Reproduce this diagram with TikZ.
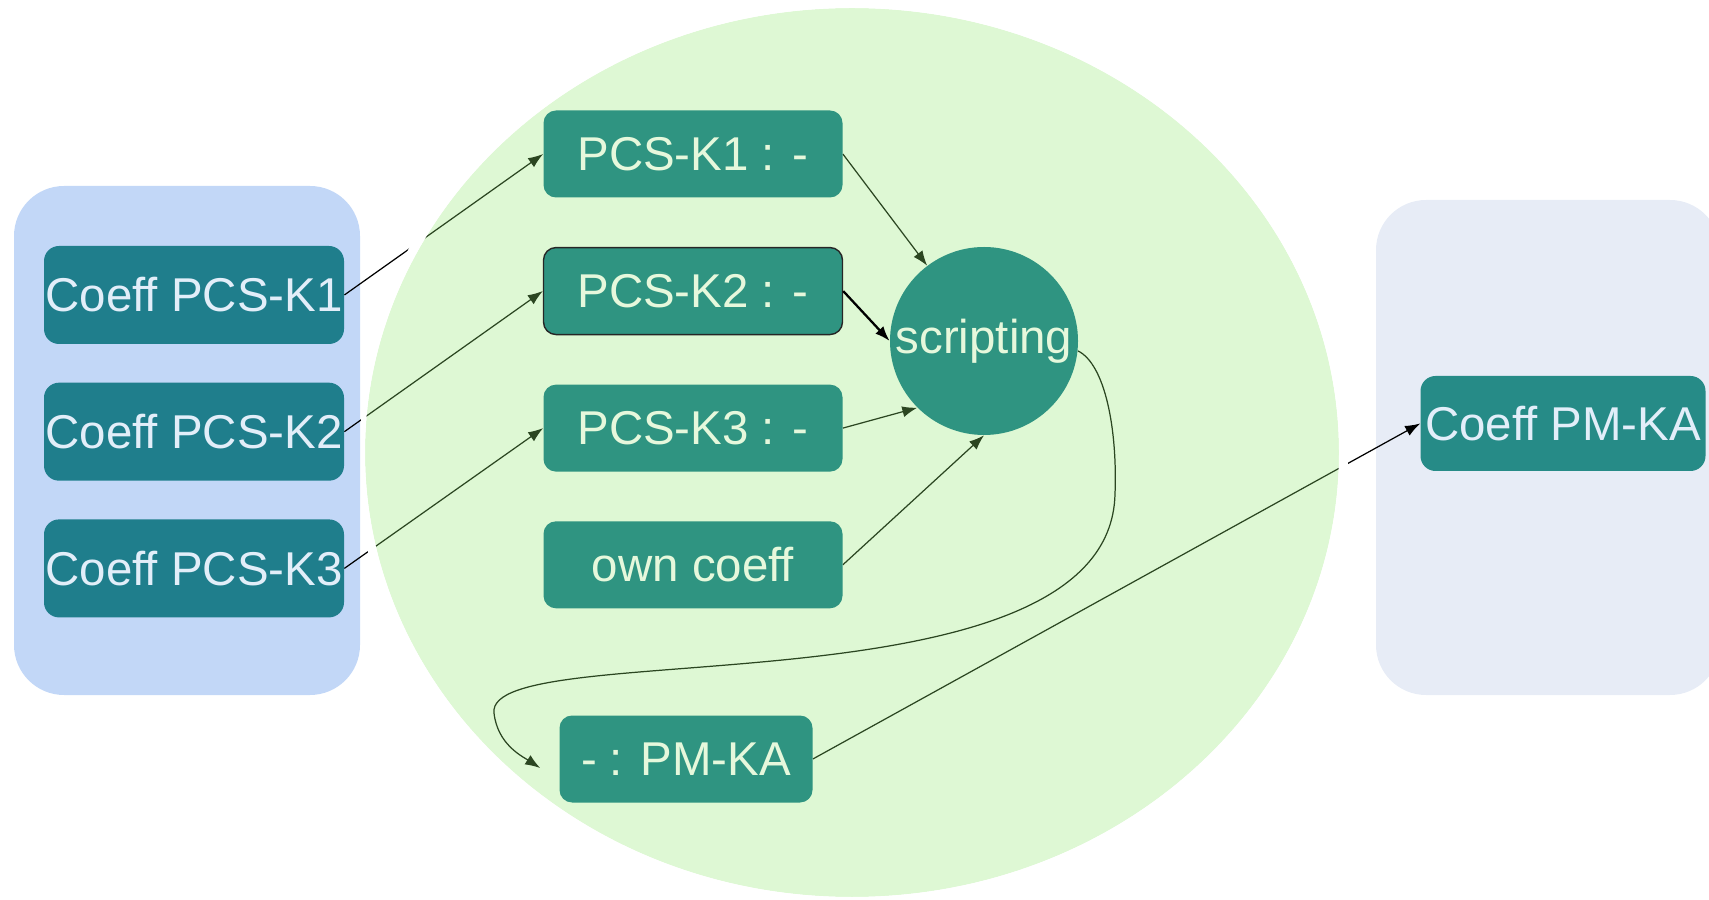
\documentclass[tikz,border=0pt]{standalone}
\usepackage{fontspec}
\setmainfont{Liberation Sans}
\usetikzlibrary{arrows.meta,positioning}
\definecolor{KfPanelBlue}{HTML}{C2D7F7}
\definecolor{KfPanelGrey}{HTML}{E7ECF6}
\definecolor{KfBlob}{HTML}{91E870}
\definecolor{KfTealBlue}{HTML}{1F7E8C}
\definecolor{KfTeal}{HTML}{2F9481}
\definecolor{KfTealMid}{HTML}{268B87}
\definecolor{KfMint}{HTML}{E6F8DC}
\definecolor{KfIce}{HTML}{E2EEF9}
\pgfdeclarelayer{background}
\pgfdeclarelayer{veil}
\pgfdeclarelayer{top}
\pgfsetlayers{background,main,veil,top}
\tikzset{
  kfcoeff/.style={
    fill=KfTealBlue,
    text=KfIce,
    rounded corners=0.3cm,
    minimum width=6cm,
    minimum height=1.96cm,
    inner sep=0pt,
    font=\fontsize{27pt}{32pt}\selectfont
  },
  kfmap/.style={
    kfcoeff,
    fill=KfTeal,
    text=KfMint,
    minimum width=5.98cm,
    minimum height=1.74cm,
    rounded corners=0.25cm
  },
  kfarrow/.style={-{Latex[length=3mm,width=2.2mm]},line width=0.7pt,draw=black}
}

\begin{document}
\begin{tikzpicture}
    \useasboundingbox (0,0) rectangle (34.18,17.98);
    \begin{pgfonlayer}{top}
    % coefficients coming in
    \node[kfcoeff] (c1) at (3.88,12.08) {Coeff PCS-K1};
    \node[kfcoeff,below=0.76cm of c1] (c2) {Coeff PCS-K2};
    \node[kfcoeff,below=0.76cm of c2] (c3) {Coeff PCS-K3};
    % mapping inside the module
    \node[kfmap] (m1) at (13.86,14.9) {PCS-K1 : -};
    \node[kfmap,below=0.98cm of m1,draw=black!85,line width=0.8pt] (m2) {PCS-K2 : -};
    \node[kfmap,below=0.98cm of m2] (m3) {PCS-K3 : -};
    \node[kfmap,below=0.98cm of m3] (own) {own coeff};
    \node[kfmap,minimum width=5.06cm] (out) at (13.72,2.8) {- : PM-KA};
    \node[kfmap,circle,minimum size=3.76cm] (scr) at (19.68,11.16) {scripting};
    % coefficient going out
    \node[kfcoeff,fill=KfTealMid,minimum width=5.7cm,minimum height=1.9cm] (pm) at (31.26,9.51) {Coeff PM-KA};
    \draw[kfarrow,line width=1.3pt] (m2.east) -- (scr.west);
    \end{pgfonlayer}

    \begin{pgfonlayer}{background}
    \fill[KfPanelBlue,rounded corners=1cm] (0.28,4.08) rectangle (7.2,14.26);
    \fill[KfPanelGrey,rounded corners=1cm] (27.52,4.08) rectangle (34.4,13.98);
    \end{pgfonlayer}

    \begin{pgfonlayer}{veil}
    \fill[KfBlob,fill opacity=0.3] (17.04,8.93) ellipse [x radius=9.74cm,y radius=8.89cm];
    \begin{scope}
      \clip (7.22,0) rectangle (27.5,17.98);
      \draw[white,line width=0.18cm] (17.04,8.93) ellipse [x radius=9.83cm,y radius=8.98cm];
    \end{scope}
    \end{pgfonlayer}

    \draw[kfarrow] (c1.east) -- (m1.west);
    \draw[kfarrow] (c2.east) -- (m2.west);
    \draw[kfarrow] (c3.east) -- (m3.west);
    \draw[kfarrow] (m1.east) -- (scr);
    \draw[kfarrow] (m3.east) -- (scr.225);
    \draw[kfarrow] (own.east) -- (scr.south);
    \draw[kfarrow] (out.east) -- (pm.west);
    % result of the script loops back down
    \coordinate (loopR) at (22.3,8.1);
    \coordinate (loopL) at (9.88,3.72);
    \draw[kfarrow] (scr.-6) .. controls (22.1,10.7) and (22.35,9.4) .. (loopR)
      .. controls (22.2,3.6) and (9.7,5.3) .. (loopL)
      .. controls (9.95,3.09) and (10.45,2.85) .. ([xshift=-0.38cm,yshift=-0.18cm]out.west);
\end{tikzpicture}
\end{document}
